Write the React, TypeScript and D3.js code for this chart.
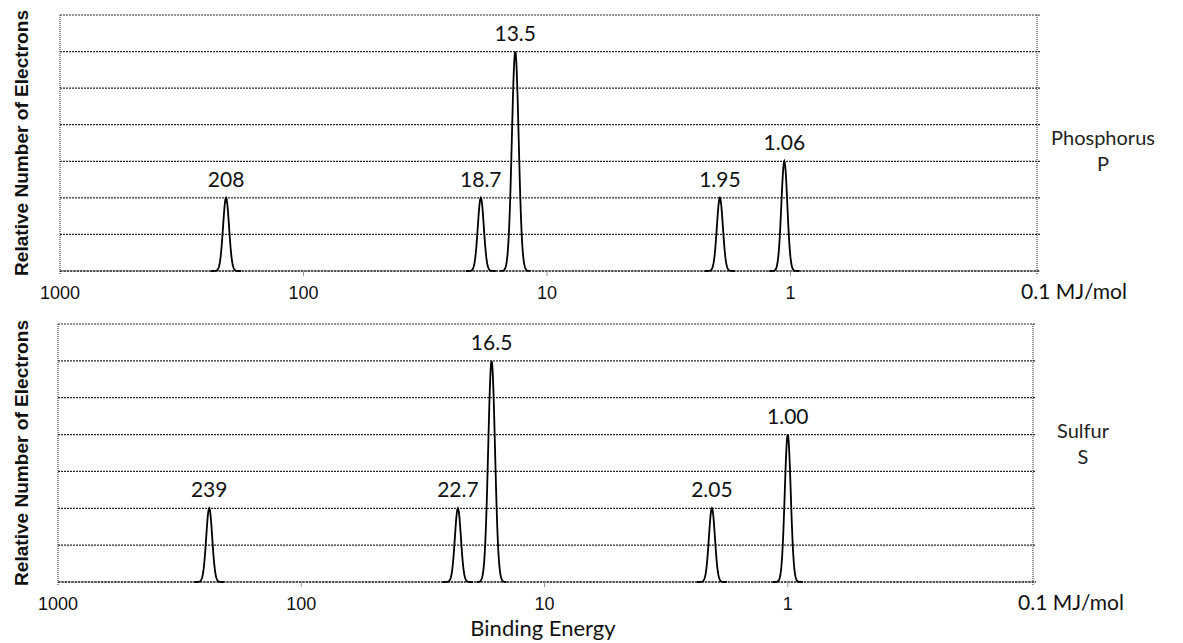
import React, { useEffect, useRef } from "react";
import * as d3 from "d3";

// x axis (binding energy, MJ/mol, log scale reversed)
const tickValues = [1000, 100, 10, 1, 0.1];
const tickLabels = ["1000", "100", "10", "1", "0.1"];
const unitLabel = "MJ/mol";
const yTicks = [0, 1, 2, 3, 4, 5, 6, 7];

// Phosphorus peaks
const phosphorusEnergy = [208, 18.7, 13.5, 1.95, 1.06];
const phosphorusElectrons = [2, 2, 6, 2, 3];
const phosphorusLabels = ["208", "18.7", "13.5", "1.95", "1.06"];

// Sulfur peaks
const sulfurEnergy = [239, 22.7, 16.5, 2.05, 1.0];
const sulfurElectrons = [2, 2, 6, 2, 4];
const sulfurLabels = ["239", "22.7", "16.5", "2.05", "1.00"];

const W = 1183;
const H = 643;
const arial = "'Liberation Sans', Arial, sans-serif";
const calibri = "Lato, 'Open Sans', sans-serif";

const panels = [
  {
    name: "Phosphorus", symbol: "P",
    energy: phosphorusEnergy, electrons: phosphorusElectrons, labels: phosphorusLabels,
    left: 60, right: 1037, xEnd: 1034, top: 15, bottom: 271,
    nameX: 1103, nameY: 145,
  },
  {
    name: "Sulfur", symbol: "S",
    energy: sulfurEnergy, electrons: sulfurElectrons, labels: sulfurLabels,
    left: 58, right: 1033, xEnd: 1031, top: 324, bottom: 582,
    nameX: 1083, nameY: 438,
  },
];

function drawChart(el: SVGSVGElement) {
  const svg = d3.select(el);
  svg.selectAll("*").remove();

  panels.forEach((p) => {
    const x = d3.scaleLog().domain([1000, 0.1]).range([p.left, p.xEnd]);
    const y = d3.scaleLinear().domain([0, 7]).range([p.bottom, p.top]);
    const g = svg.append("g");

    // dotted grid lines
    g.selectAll("line.grid")
      .data(yTicks.slice(1))
      .enter()
      .append("line")
      .attr("x1", p.left)
      .attr("x2", p.right + 3)
      .attr("y1", (d) => y(d))
      .attr("y2", (d) => y(d))
      .attr("stroke", "#2a2a2a")
      .attr("stroke-width", 1.2)
      .attr("stroke-dasharray", "2 1");

    // baseline
    g.append("line")
      .attr("x1", p.left)
      .attr("x2", p.right + 3)
      .attr("y1", y(0))
      .attr("y2", y(0))
      .attr("stroke", "#1a1a1a")
      .attr("stroke-width", 1.5)
      .attr("stroke-dasharray", "2.5 0.8");

    // side borders
    [p.left, p.right].forEach((bx) => {
      g.append("line")
        .attr("x1", bx)
        .attr("x2", bx)
        .attr("y1", p.top)
        .attr("y2", p.bottom + 4)
        .attr("stroke", "#333")
        .attr("stroke-width", 1.1)
        .attr("stroke-dasharray", "1 1");
    });

    // faint decade ticks below baseline
    g.selectAll("line.tick")
      .data(tickValues.slice(1, 4))
      .enter()
      .append("line")
      .attr("x1", (d) => x(d))
      .attr("x2", (d) => x(d))
      .attr("y1", y(0))
      .attr("y2", y(0) + 5)
      .attr("stroke", "#999")
      .attr("stroke-width", 1);

    // tick labels
    g.selectAll("text.tick")
      .data(tickValues.slice(0, 4))
      .enter()
      .append("text")
      .attr("x", (d) => x(d))
      .attr("y", p.bottom + 28)
      .attr("text-anchor", "middle")
      .style("font-family", arial)
      .style("font-size", "18px")
      .style("fill", "#111")
      .text((d, i) => tickLabels[i]);

    g.append("text")
      .attr("x", x(0.1) - 13)
      .attr("y", p.bottom + 28)
      .style("font-family", calibri)
      .style("font-size", "21px")
      .style("fill", "#111")
      .text(tickLabels[4] + " " + unitLabel);

    // peaks
    const line = d3.line<[number, number]>();
    p.energy.forEach((e, i) => {
      const n = p.electrons[i];
      const s = n >= 6 ? 3.4 : 3;
      const pts: [number, number][] = d3
        .range(-15, 15.01, 0.5)
        .map((dx) => [x(e) + dx, y(n * Math.exp(-(dx * dx) / (2 * s * s)))]);
      g.append("path")
        .attr("d", line(pts))
        .attr("fill", "none")
        .attr("stroke", "#000")
        .attr("stroke-width", 1.8);

      g.append("text")
        .attr("x", x(e))
        .attr("y", y(n) - 11)
        .attr("text-anchor", "middle")
        .style("font-family", calibri)
        .style("font-size", "21px")
        .style("fill", "#111")
        .text(p.labels[i]);
    });

    // y title
    g.append("text")
      .attr("transform", `translate(28,${(p.top + p.bottom) / 2}) rotate(-90)`)
      .attr("text-anchor", "middle")
      .attr("textLength", 266)
      .attr("lengthAdjust", "spacingAndGlyphs")
      .style("font-family", arial)
      .style("font-weight", "bold")
      .style("font-size", "18px")
      .style("fill", "#111")
      .text("Relative Number of Electrons");

    // element name
    g.append("text")
      .attr("x", p.nameX)
      .attr("y", p.nameY)
      .attr("text-anchor", "middle")
      .style("font-family", calibri)
      .style("font-size", "20px")
      .style("fill", "#222")
      .text(p.name);
    g.append("text")
      .attr("x", p.nameX)
      .attr("y", p.nameY + 26)
      .attr("text-anchor", "middle")
      .style("font-family", calibri)
      .style("font-size", "20px")
      .style("fill", "#222")
      .text(p.symbol);
  });

  svg.append("text")
    .attr("x", 543)
    .attr("y", 636)
    .attr("text-anchor", "middle")
    .style("font-family", calibri)
    .style("font-size", "22px")
    .style("fill", "#111")
    .text("Binding Energy");
}

export default function App() {
  const ref = useRef<SVGSVGElement>(null);

  useEffect(() => {
    if (ref.current) drawChart(ref.current);
  }, []);

  return (
    <svg
      ref={ref}
      width={W}
      height={H}
      style={{ position: "absolute", left: 0, top: 0, background: "#fff" }}
    />
  );
}
